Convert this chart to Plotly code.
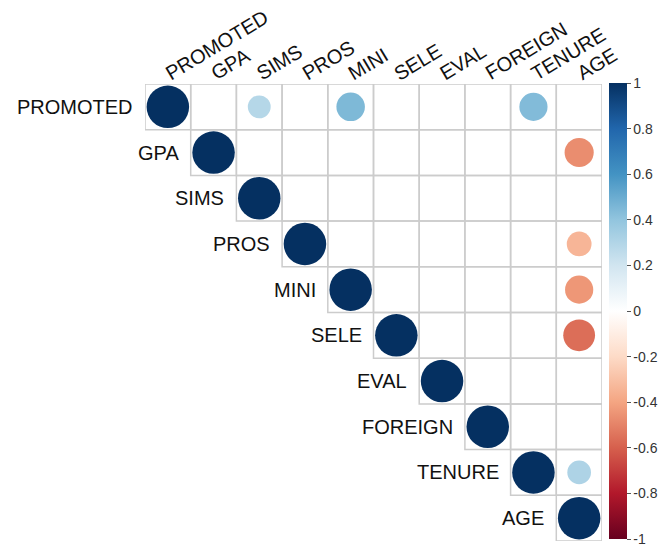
import plotly.graph_objects as go

variables = ["PROMOTED", "GPA", "SIMS", "PROS", "MINI", "SELE", "EVAL", "FOREIGN", "TENURE", "AGE"]

# upper triangle correlations (None = blank / not significant)
row_PROMOTED = [1.0, None, 0.29, None, 0.45, None, None, None, 0.44, None]
row_GPA      = [None, 1.0, None, None, None, None, None, None, None, -0.47]
row_SIMS     = [None, None, 1.0, None, None, None, None, None, None, None]
row_PROS     = [None, None, None, 1.0, None, None, None, None, None, -0.34]
row_MINI     = [None, None, None, None, 1.0, None, None, None, None, -0.44]
row_SELE     = [None, None, None, None, None, 1.0, None, None, None, -0.56]
row_EVAL     = [None, None, None, None, None, None, 1.0, None, None, None]
row_FOREIGN  = [None, None, None, None, None, None, None, 1.0, None, None]
row_TENURE   = [None, None, None, None, None, None, None, None, 1.0, 0.31]
row_AGE      = [None, None, None, None, None, None, None, None, None, 1.0]
corr = [row_PROMOTED, row_GPA, row_SIMS, row_PROS, row_MINI,
        row_SELE, row_EVAL, row_FOREIGN, row_TENURE, row_AGE]

cb_vals = [-1, -0.8, -0.6, -0.4, -0.2, 0, 0.2, 0.4, 0.6, 0.8, 1]
cb_text = ["-1", "-0.8", "-0.6", "-0.4", "-0.2", "0", "0.2", "0.4", "0.6", "0.8", "1"]

rdbu = ["#67001F", "#B2182B", "#D6604D", "#F4A582", "#FDDBC7", "#FFFFFF",
        "#D1E5F0", "#92C5DE", "#4393C3", "#2166AC", "#053061"]
colorscale = [[i / 10, c] for i, c in enumerate(rdbu)]

W, H = 658, 547
ML, MR, MT, MB = 145, 56, 84, 6
n = len(variables)
PW = W - ML - MR
PH = H - MT - MB
cell = PW / n

xs, ys, vals, sizes = [], [], [], []
for i in range(n):
    for j in range(n):
        v = corr[i][j]
        if v is None:
            continue
        xs.append(j)
        ys.append(i)
        vals.append(v)
        sizes.append(0.93 * abs(v) ** 0.5 * cell)

fig = go.Figure()
fig.add_trace(go.Scatter(
    x=xs, y=ys, mode="markers",
    marker=dict(size=sizes, sizemode="diameter", color=vals, colorscale=colorscale,
                cmin=-1, cmax=1, line=dict(width=0), opacity=1,
                colorbar=dict(tickvals=cb_vals, ticktext=cb_text, x=1 + 7 / PW,
                              xanchor="left", xpad=0, ypad=0, y=1 + 1 / PH, yanchor="top",
                              len=(PH - 1) / PH, lenmode="fraction", thickness=18, outlinewidth=0,
                              ticks="outside", ticklen=4, tickcolor="#555",
                              tickfont=dict(family="Liberation Sans", size=14, color="#333"))),
    hoverinfo="skip", showlegend=False,
))

shapes = []
for i in range(n):
    for j in range(i, n):
        shapes.append(dict(type="rect", xref="x", yref="y",
                           x0=j - 0.5, x1=j + 0.5, y0=i - 0.5, y1=i + 0.5,
                           line=dict(color="#CCCCCC", width=1.5), layer="below"))

annotations = []
for i, name in enumerate(variables):
    annotations.append(dict(x=i - 0.5, y=i, xref="x", yref="y", text=name,
                            showarrow=False, xanchor="right", yanchor="middle", xshift=-10,
                            font=dict(family="Liberation Sans", size=20, color="#111")))
    annotations.append(dict(x=i, y=-0.5, xref="x", yref="y", text=name,
                            showarrow=False, xanchor="left", yanchor="bottom", textangle=-31,
                            xshift=-9, yshift=-3,
                            font=dict(family="Liberation Sans", size=20, color="#111")))

fig.update_layout(
    width=W, height=H, margin=dict(l=ML, r=MR, t=MT, b=MB, autoexpand=False),
    plot_bgcolor="white", paper_bgcolor="white",
    xaxis=dict(range=[-0.5, n - 0.5], visible=False, fixedrange=True),
    yaxis=dict(range=[n - 0.5, -0.5], visible=False, fixedrange=True),
    shapes=shapes, annotations=annotations,
)

fig.write_html("out.html", config={"displayModeBar": False},
               post_script="document.body.style.margin='0';document.body.style.overflow='hidden';")
